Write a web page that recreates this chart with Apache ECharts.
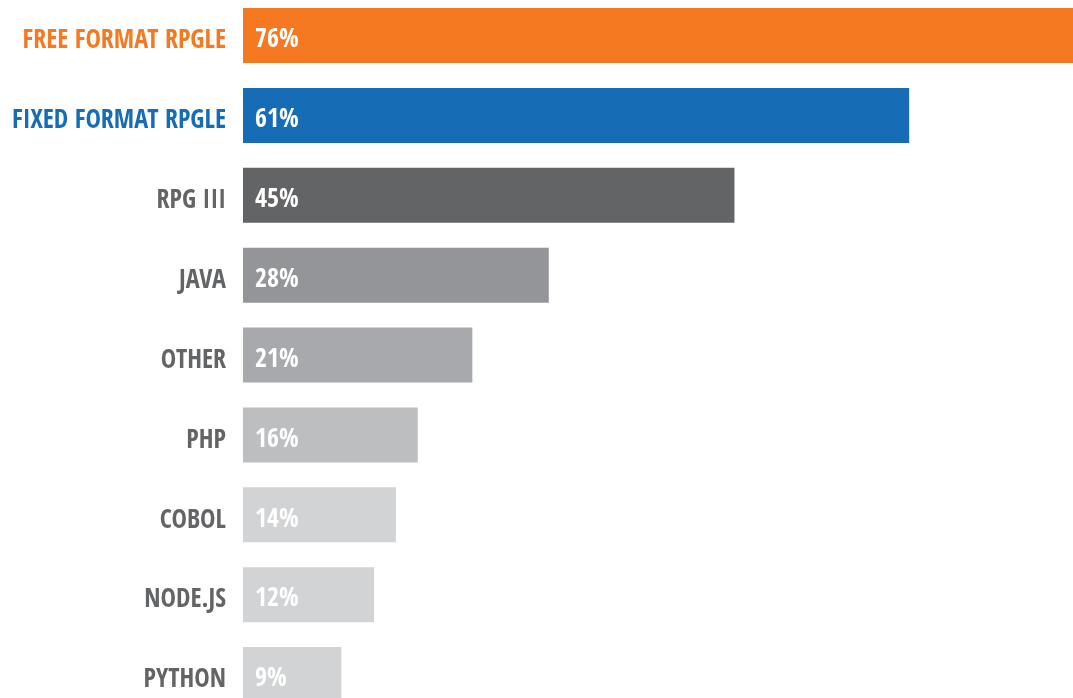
<!DOCTYPE html>
<html>
<head>
<meta charset="utf-8">
<script src="https://cdn.jsdelivr.net/npm/echarts@6/dist/echarts.min.js"></script>
<style>
html,body{margin:0;padding:0;background:#fff;}
#c{width:1073px;height:698px;}
</style>
</head>
<body>
<div id="c"></div>
<script>
const categories = ["FREE FORMAT RPGLE","FIXED FORMAT RPGLE","RPG III","JAVA","OTHER","PHP","COBOL","NODE.JS","PYTHON"];
const values = [76, 61, 45, 28, 21, 16, 14, 12, 9];
const barColors = ["#F47920","#166DB6","#636466","#939598","#A7A9AC","#BCBEC0","#D1D3D4","#D1D3D4","#D1D3D4"];
const labelColors = ["#F47920","#166DB6","#636466","#636466","#636466","#636466","#636466","#636466","#636466"];

const FONT = '"Open Sans Condensed","Roboto Condensed",sans-serif';
const chart = echarts.init(document.getElementById('c'));
chart.setOption({
  animation: false,
  grid: { left: 243, right: 0, top: -4.4, height: 718.9, containLabel: false, outerBoundsMode: 'none' },
  xAxis: { type: 'value', min: 0, max: 76, show: false },
  yAxis: {
    type: 'category', data: categories, inverse: true,
    axisLine: { show: false }, axisTick: { show: false }, splitLine: { show: false },
    axisLabel: {
      margin: 17, fontFamily: FONT, fontWeight: 'bold', fontSize: 26,
      formatter: v => '{a|' + v + '}',
      rich: { a: { fontFamily: FONT, fontWeight: 'bold', fontSize: 26, padding: [12, 0, 0, 0] } },
      color: (v, i) => labelColors[categories.indexOf(v)]
    }
  },
  series: [{
    type: 'bar', barWidth: 55,
    data: values.map((v, i) => ({ value: v, itemStyle: { color: barColors[i] } })),
    label: {
      show: true, position: 'insideLeft', distance: 12, offset: [0, 5],
      formatter: '{c}%', color: '#fff', fontFamily: FONT, fontWeight: 'bold', fontSize: 26
    }
  }]
});
</script>
</body>
</html>
